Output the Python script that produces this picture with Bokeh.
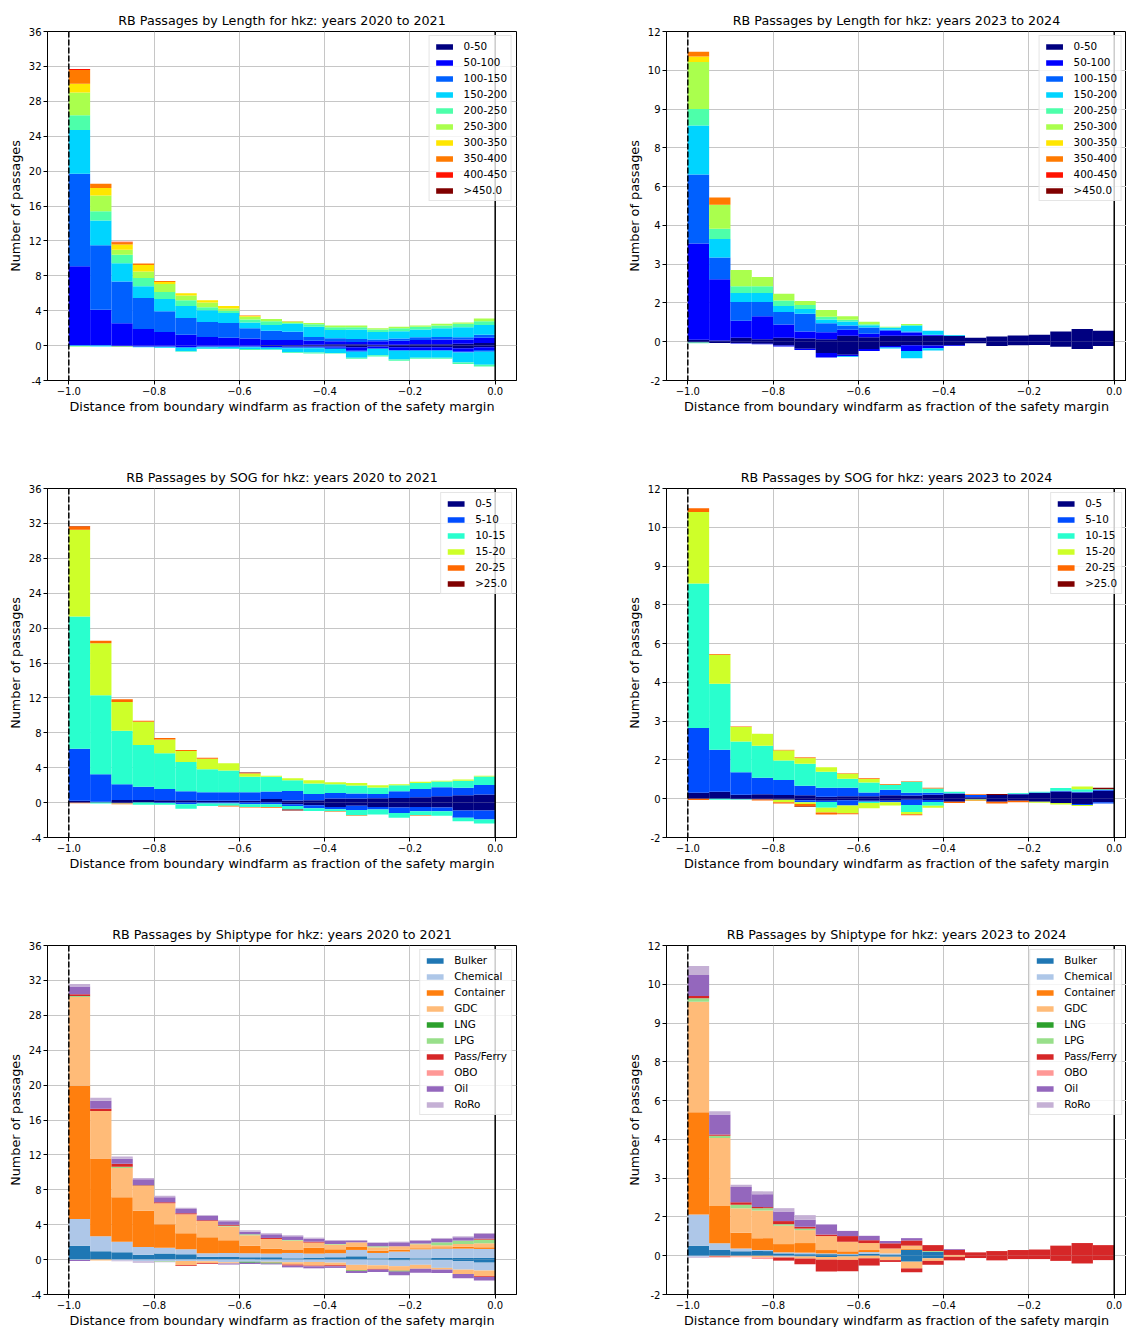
from bokeh.plotting import figure
from bokeh.models import ColumnDataSource, Range1d, FixedTicker, Span, Legend, LegendItem
from bokeh.layouts import column, row
from bokeh.embed import file_html
from bokeh.resources import INLINE

# ---------------- data ----------------
n_bins = 20
bin_width = 0.05
bin_centers = [round(-1.0 + bin_width * (i + 0.5), 3) for i in range(n_bins)]

length_cats = ["0-50", "50-100", "100-150", "150-200", "200-250",
               "250-300", "300-350", "350-400", "400-450", ">450.0"]
length_colors = ["#000080", "#0000ff", "#0060ff", "#00d4ff", "#4dffaa",
                 "#aaff4d", "#ffe600", "#ff7a00", "#ff1200", "#800000"]
sog_cats = ["0-5", "5-10", "10-15", "15-20", "20-25", ">25.0"]
sog_colors = ["#000080", "#004cff", "#29ffce", "#ceff29", "#ff6800", "#800000"]
ship_cats = ["Bulker", "Chemical", "Container", "GDC", "LNG", "LPG",
             "Pass/Ferry", "OBO", "Oil", "RoRo"]
ship_colors = ["#1f77b4", "#aec7e8", "#ff7f0e", "#ffbb78", "#2ca02c", "#98df8a",
               "#d62728", "#ff9896", "#9467bd", "#c5b0d5"]

Z = [0] * 20

# Length, 2020-2021, passages in positive direction (one row per category)
len20_pos = [
    [0, 0, 0, 0, 0, 0, 0, 0, 0, 0.05, 0.05, 0.1, 0.15, 0.15, 0.1, 0.1, 0.15, 0.15, 0.2, 0.3],
    [9.1, 4.1, 2.55, 1.9, 1.55, 1.25, 1.0, 0.9, 0.8, 0.6, 0.6, 0.45, 0.35, 0.25, 0.4, 0.45, 0.5, 0.55, 0.5, 0.6],
    [10.6, 7.4, 4.8, 3.55, 2.4, 1.9, 1.7, 1.7, 1.2, 1.05, 0.95, 0.45, 0.35, 0.35, 0.2, 0.25, 0.3, 0.3, 0.25, 0.35],
    [5.0, 2.85, 2.1, 1.35, 1.4, 1.4, 1.35, 1.15, 0.65, 0.65, 0.9, 1.15, 0.95, 1.1, 0.85, 0.85, 0.9, 1.0, 1.15, 1.1],
    [1.7, 1.05, 0.95, 0.95, 0.8, 0.65, 0.35, 0.25, 0.35, 0.45, 0.1, 0.3, 0.3, 0.25, 0.3, 0.35, 0.3, 0.3, 0.4, 0.45],
    [2.6, 1.8, 0.6, 0.75, 0.9, 0.55, 0.55, 0.25, 0.3, 0.25, 0.15, 0.15, 0.2, 0.2, 0.15, 0.15, 0.15, 0.2, 0.15, 0.3],
    [1.0, 0.85, 0.6, 0.75, 0.25, 0.25, 0.25, 0.3, 0.1, 0, 0, 0, 0, 0, 0, 0, 0, 0, 0, 0],
    [1.6, 0.5, 0.25, 0.15, 0.1, 0, 0, 0, 0.05, 0, 0.05, 0, 0, 0, 0, 0, 0, 0, 0, 0],
    [0.1, 0, 0.05, 0, 0, 0, 0, 0, 0, 0, 0, 0, 0, 0, 0, 0, 0, 0, 0, 0],
    Z,
]
# Length, 2020-2021, passages in negative direction (magnitudes)
len20_neg = [
    [0, 0, 0, 0, 0, 0, 0, 0, 0, 0.05, 0.1, 0.1, 0.1, 0.2, 0.1, 0.2, 0.2, 0.2, 0.3, 0.2],
    [0, 0, 0.05, 0.1, 0.1, 0.15, 0.1, 0.1, 0.1, 0.1, 0.1, 0.1, 0.15, 0.4, 0.2, 0.3, 0.3, 0.3, 0.4, 0.3],
    [0, 0, 0.05, 0.05, 0.05, 0.1, 0.1, 0.05, 0.1, 0.1, 0.1, 0.1, 0.15, 0.1, 0.1, 0.1, 0.1, 0.1, 0.1, 0.2],
    [0.05, 0.1, 0, 0.05, 0.1, 0.4, 0.15, 0.2, 0.2, 0.2, 0.45, 0.5, 0.45, 0.7, 0.7, 1.0, 0.8, 0.8, 1.15, 1.5],
    [0.05, 0, 0, 0, 0, 0.05, 0.05, 0.05, 0.1, 0.05, 0.1, 0.1, 0.05, 0.1, 0.15, 0.15, 0.1, 0.1, 0.15, 0.2],
    [0.03, 0, 0.05, 0, 0, 0, 0, 0, 0, 0, 0, 0, 0, 0, 0, 0, 0, 0, 0, 0],
    Z, Z, Z, Z,
]

# Length, 2023-2024
len23_pos = [
    [0.08, 0.05, 0.15, 0.1, 0.15, 0.12, 0.1, 0.23, 0.17, 0.23, 0.23, 0.23, 0.23, 0.15, 0.2, 0.24, 0.27, 0.4, 0.49, 0.42],
    [3.72, 2.37, 0.66, 0.89, 0.52, 0.28, 0.27, 0.23, 0.14, 0.19, 0.13, 0.03, 0, 0, 0, 0, 0, 0, 0, 0],
    [2.67, 0.84, 0.73, 0.55, 0.48, 0.68, 0.34, 0.17, 0.24, 0.04, 0.04, 0.01, 0, 0, 0, 0, 0, 0, 0, 0],
    [1.89, 0.71, 0.34, 0.34, 0.23, 0.19, 0.15, 0.15, 0.09, 0.08, 0.22, 0.15, 0.03, 0, 0, 0, 0, 0, 0, 0],
    [0.64, 0.4, 0.27, 0.27, 0.21, 0.15, 0.11, 0.07, 0.04, 0.02, 0.03, 0, 0, 0, 0, 0, 0, 0, 0, 0],
    [1.82, 0.93, 0.62, 0.35, 0.27, 0.16, 0.26, 0.14, 0.09, 0.02, 0.04, 0, 0, 0, 0, 0, 0, 0, 0, 0],
    [0.21, 0, 0, 0, 0, 0, 0, 0, 0, 0, 0, 0, 0, 0, 0, 0, 0, 0, 0, 0],
    [0.19, 0.28, 0, 0, 0, 0, 0, 0, 0, 0, 0, 0, 0, 0, 0, 0, 0, 0, 0, 0],
    Z, Z,
]
len23_neg = [
    [0.03, 0.05, 0.05, 0.08, 0.15, 0.27, 0.44, 0.5, 0.28, 0.17, 0.14, 0.15, 0.14, 0.06, 0.17, 0.14, 0.13, 0.19, 0.28, 0.17],
    [0, 0, 0.02, 0.02, 0.03, 0.05, 0.17, 0.06, 0.08, 0.05, 0.22, 0.1, 0.03, 0, 0, 0, 0, 0, 0, 0],
    Z,
    [0, 0, 0, 0, 0, 0, 0, 0.03, 0, 0.04, 0.28, 0.09, 0, 0, 0, 0, 0, 0, 0, 0],
    [0.03, 0, 0, 0, 0, 0, 0, 0, 0, 0, 0, 0, 0, 0, 0, 0, 0, 0, 0, 0],
    Z, Z, Z, Z, Z,
]

# SOG, 2020-2021
sog20_pos = [
    [0.2, 0.1, 0.3, 0.3, 0.27, 0.27, 0.2, 0.2, 0.2, 0.42, 0.23, 0.27, 0.46, 0.46, 0.5, 0.54, 0.61, 0.73, 0.84, 0.92],
    [5.97, 3.14, 1.8, 1.53, 1.3, 1.03, 0.99, 0.99, 0.99, 0.84, 1.11, 0.73, 0.65, 0.57, 0.5, 0.76, 0.96, 1.03, 0.85, 1.11],
    [15.16, 9.06, 6.13, 4.76, 4.1, 3.34, 2.64, 2.49, 1.76, 1.69, 1.23, 1.18, 1.0, 0.92, 0.72, 0.69, 0.69, 0.65, 0.8, 0.96],
    [9.95, 5.95, 3.31, 2.67, 1.57, 1.26, 1.19, 0.84, 0.38, 0.12, 0.23, 0.39, 0.23, 0.31, 0.27, 0.12, 0.12, 0.08, 0.15, 0.08],
    [0.38, 0.3, 0.31, 0.11, 0.15, 0.12, 0.11, 0, 0.07, 0, 0, 0, 0, 0, 0, 0, 0, 0, 0, 0],
    [0.05, 0, 0, 0, 0, 0, 0, 0, 0.05, 0, 0, 0, 0, 0, 0, 0, 0, 0, 0, 0],
]
sog20_neg = [
    [0.03, 0, 0.05, 0, 0, 0, 0, 0, 0, 0, 0.2, 0.3, 0.5, 0.35, 0.5, 0.55, 0.5, 0.55, 0.9, 0.9],
    [0, 0, 0, 0, 0.05, 0.2, 0.1, 0.1, 0.2, 0.2, 0.2, 0.35, 0.25, 0.5, 0.3, 0.65, 0.5, 0.45, 0.85, 1.05],
    [0, 0.1, 0.05, 0.25, 0.2, 0.5, 0.3, 0.25, 0.3, 0.3, 0.4, 0.3, 0.25, 0.6, 0.55, 0.55, 0.45, 0.5, 0.4, 0.45],
    Z,
    [0.05, 0, 0.1, 0, 0, 0, 0, 0.1, 0.05, 0.1, 0, 0, 0.05, 0.05, 0, 0, 0.05, 0, 0, 0],
    [0, 0, 0, 0, 0, 0, 0, 0, 0, 0, 0.1, 0, 0, 0, 0, 0, 0, 0, 0, 0],
]

# SOG, 2023-2024
sog23_pos = [
    [0.23, 0.27, 0.15, 0.17, 0.14, 0.13, 0.08, 0.1, 0.1, 0.13, 0.12, 0.15, 0.19, 0.06, 0.14, 0.17, 0.22, 0.28, 0.24, 0.31],
    [2.51, 1.62, 0.87, 0.64, 0.58, 0.37, 0.34, 0.32, 0.14, 0.22, 0.11, 0.08, 0.02, 0.08, 0, 0.02, 0.02, 0.03, 0.03, 0.03],
    [5.59, 2.56, 1.19, 1.24, 0.76, 0.85, 0.62, 0.35, 0.39, 0.19, 0.43, 0.17, 0.06, 0, 0, 0.03, 0.03, 0.1, 0.1, 0.03],
    [2.76, 1.12, 0.56, 0.46, 0.39, 0.22, 0.18, 0.2, 0.13, 0, 0, 0, 0, 0, 0, 0, 0, 0, 0.1, 0],
    [0.15, 0.03, 0.02, 0, 0.02, 0.03, 0, 0.02, 0.03, 0.03, 0.02, 0.02, 0, 0.03, 0, 0, 0, 0, 0, 0],
    [0, 0, 0, 0, 0, 0, 0, 0, 0, 0, 0, 0, 0, 0, 0.04, 0, 0, 0, 0, 0.05],
]
sog23_neg = [
    [0, 0, 0.02, 0.03, 0.04, 0.06, 0.08, 0.06, 0.08, 0.08, 0.04, 0.05, 0.12, 0.03, 0.12, 0.08, 0.12, 0.17, 0.2, 0.14],
    [0, 0, 0, 0, 0, 0.08, 0.05, 0.2, 0.04, 0.06, 0.2, 0.08, 0, 0, 0, 0, 0, 0, 0.04, 0.04],
    [0, 0.04, 0.02, 0, 0, 0, 0.22, 0, 0.05, 0, 0.27, 0.14, 0, 0, 0, 0, 0, 0, 0, 0],
    [0, 0, 0, 0, 0.1, 0.06, 0.18, 0.3, 0.2, 0.12, 0.09, 0.08, 0, 0.04, 0, 0, 0.04, 0.05, 0.04, 0],
    [0.05, 0, 0, 0.04, 0.04, 0.1, 0.08, 0.04, 0, 0, 0.04, 0, 0.05, 0.02, 0.06, 0.06, 0, 0, 0, 0],
    [0, 0, 0, 0, 0, 0.02, 0, 0, 0, 0, 0, 0, 0, 0, 0, 0, 0, 0, 0, 0],
]

# Shiptype, 2020-2021
ship20_pos = [
    [1.6, 0.95, 0.84, 0.57, 0.69, 0.61, 0.34, 0.31, 0.27, 0.27, 0.15, 0.23, 0.27, 0.38, 0.15, 0.19, 0.15, 0.19, 0.19, 0.19],
    [3.06, 1.72, 1.22, 0.88, 0.68, 0.57, 0.39, 0.45, 0.46, 0.42, 0.61, 0.46, 0.46, 0.73, 0.61, 0.73, 1.03, 1.07, 1.07, 1.03],
    [15.26, 8.93, 5.08, 4.16, 2.68, 1.84, 1.83, 1.45, 0.87, 0.57, 0.34, 0.68, 0.45, 0.34, 0.27, 0.19, 0.12, 0.15, 0.23, 0.19],
    [10.19, 5.42, 3.36, 2.83, 2.4, 2.17, 1.87, 1.57, 1.19, 1.11, 1.08, 0.58, 0.54, 0.53, 0.38, 0.42, 0.46, 0.23, 0.3, 0.46],
    [0.05, 0, 0, 0, 0, 0, 0, 0, 0, 0, 0, 0, 0, 0, 0, 0, 0, 0, 0, 0],
    [0.05, 0, 0.15, 0.05, 0, 0, 0, 0.11, 0.11, 0, 0.07, 0, 0.07, 0, 0.12, 0, 0.08, 0.34, 0.39, 0.42],
    [0.2, 0.27, 0.34, 0.05, 0.11, 0.11, 0.07, 0.11, 0, 0.11, 0, 0.11, 0, 0, 0, 0, 0, 0, 0, 0.11],
    Z,
    [0.88, 0.91, 0.57, 0.66, 0.58, 0.5, 0.54, 0.39, 0.3, 0.42, 0.42, 0.34, 0.35, 0.15, 0.38, 0.45, 0.3, 0.39, 0.38, 0.54],
    [0.3, 0.35, 0.27, 0.15, 0.19, 0.15, 0.06, 0.11, 0.16, 0.12, 0.12, 0.12, 0.11, 0.12, 0.07, 0.08, 0.11, 0.11, 0.11, 0.11],
]
ship20_neg = [
    [0, 0, 0, 0, 0, 0, 0, 0, 0, 0, 0, 0, 0, 0, 0, 0.1, 0, 0.05, 0.2, 0.35],
    [0.05, 0, 0.1, 0.2, 0.15, 0.15, 0.2, 0.3, 0.25, 0.25, 0.3, 0.27, 0.35, 0.6, 0.65, 0.65, 0.6, 0.9, 0.95, 0.9],
    Z,
    [0, 0.1, 0, 0, 0, 0.5, 0.2, 0.15, 0, 0.1, 0.27, 0.42, 0.3, 0.65, 0.42, 0.53, 0.45, 0.2, 0.5, 0.65],
    [0, 0, 0, 0, 0, 0, 0, 0, 0.1, 0.1, 0, 0, 0, 0.07, 0, 0.08, 0, 0, 0, 0],
    [0, 0, 0, 0, 0.1, 0, 0, 0, 0, 0, 0, 0, 0, 0, 0, 0, 0, 0, 0, 0],
    [0, 0, 0, 0, 0, 0.07, 0.07, 0, 0, 0, 0.12, 0.08, 0.11, 0, 0.08, 0, 0, 0, 0, 0.08],
    Z,
    [0.1, 0, 0, 0, 0, 0, 0, 0.1, 0.15, 0.1, 0.2, 0.23, 0.19, 0.23, 0.27, 0.42, 0.46, 0.38, 0.5, 0.42],
    [0, 0, 0.1, 0.15, 0.05, 0, 0, 0, 0, 0, 0, 0, 0, 0, 0, 0, 0, 0, 0, 0],
]

# Shiptype, 2023-2024
ship23_pos = [
    [0.39, 0.22, 0.17, 0.18, 0.09, 0.06, 0.06, 0.05, 0.08, 0.05, 0.23, 0.15, 0, 0, 0, 0, 0, 0, 0, 0],
    [1.2, 0.26, 0.11, 0.04, 0.04, 0.06, 0.03, 0.02, 0.06, 0.04, 0, 0, 0, 0, 0, 0, 0, 0, 0, 0],
    [3.96, 1.44, 0.61, 0.46, 0.32, 0.37, 0.13, 0.1, 0.08, 0, 0.05, 0, 0, 0, 0, 0, 0, 0, 0, 0],
    [4.27, 2.63, 0.95, 1.07, 0.71, 0.5, 0.54, 0.37, 0.27, 0.19, 0.11, 0, 0.03, 0, 0, 0, 0, 0, 0, 0],
    Z,
    [0.14, 0.09, 0.13, 0.09, 0.06, 0.06, 0, 0, 0, 0, 0, 0.03, 0, 0, 0, 0, 0, 0, 0, 0],
    [0.09, 0.05, 0.1, 0.04, 0.12, 0.07, 0.06, 0.22, 0.11, 0.2, 0.2, 0.23, 0.2, 0.13, 0.18, 0.22, 0.24, 0.39, 0.49, 0.41],
    Z,
    [0.81, 0.77, 0.59, 0.5, 0.37, 0.27, 0.39, 0.2, 0.17, 0.09, 0.09, 0, 0.03, 0, 0, 0, 0, 0, 0, 0],
    [0.35, 0.13, 0.09, 0.11, 0.13, 0.18, 0, 0, 0, 0, 0, 0, 0, 0, 0, 0, 0, 0, 0, 0],
]
ship23_neg = [
    [0, 0, 0, 0, 0, 0.03, 0.05, 0.03, 0, 0.04, 0.23, 0.1, 0, 0, 0, 0, 0, 0, 0, 0],
    [0.04, 0, 0, 0, 0.04, 0, 0, 0, 0, 0, 0, 0, 0, 0, 0, 0, 0, 0, 0, 0],
    Z,
    [0, 0.03, 0.03, 0.06, 0.03, 0.08, 0.1, 0.13, 0.1, 0.13, 0.26, 0.1, 0.04, 0, 0, 0, 0, 0, 0, 0],
    Z, Z,
    [0, 0.03, 0, 0, 0.12, 0.22, 0.46, 0.44, 0.28, 0.07, 0.15, 0.15, 0.14, 0.09, 0.18, 0.13, 0.13, 0.2, 0.3, 0.17],
    [0, 0, 0.03, 0.07, 0, 0, 0, 0, 0, 0, 0, 0, 0, 0, 0, 0, 0, 0, 0, 0],
    Z,
    [0.04, 0, 0, 0, 0, 0, 0, 0, 0, 0, 0, 0, 0, 0, 0, 0, 0, 0, 0, 0],
]

x_ticks = [round(-1.0 + 0.2 * k, 1) for k in range(6)]
left_yticks = list(range(-4, 37, 4))
right_yticks = [-1.5 + 1.5 * k for k in range(10)]

FONT = "DejaVu Sans"
XLABEL = "Distance from boundary windfarm as fraction of the safety margin"
YLABEL = "Number of passages"


def make_panel(title, cats, colors, pos, neg, side, bottom_border):
    if side == "left":
        fw, xr = 469, (-1.05, 0.05)
        yr, yticks = (-4, 36), left_yticks
        ylabels = {t: str(t) for t in yticks}
        bl, br = 47, 50
    else:
        fw, xr = 460, (-1.05, -1.05 + 460 / 426.4)
        yr, yticks = (-1.5, 12), right_yticks
        ylabels = {t: f"{t:.0f}" for t in yticks}
        bl, br = 100, 0
    p = figure(frame_width=fw, frame_height=349,
               x_range=Range1d(*xr), y_range=Range1d(*yr),
               output_backend="svg", toolbar_location=None,
               min_border_left=bl, min_border_right=br,
               min_border_top=31, min_border_bottom=bottom_border,
               background_fill_color="white", border_fill_color="white")
    p.title.text = title
    p.title.align = "center"
    p.title.text_font = FONT
    p.title.text_font_size = "12.7px"
    p.title.text_font_style = "normal"
    p.title.text_color = "black"
    p.title.standoff = 7

    data = {"x": bin_centers}
    for i in range(len(cats)):
        data[f"p{i}"] = pos[i]
        data[f"n{i}"] = [-v for v in neg[i]]
    src = ColumnDataSource(data)
    rp = p.vbar_stack([f"p{i}" for i in range(len(cats))], x="x", width=bin_width,
                      fill_color=colors, line_color=None, source=src)
    p.vbar_stack([f"n{i}" for i in range(len(cats))], x="x", width=bin_width,
                 fill_color=colors, line_color=None, source=src)

    p.add_layout(Span(location=-1.0, dimension="height", line_color="black",
                      line_width=1.5, line_dash="6 2"))
    p.add_layout(Span(location=0.0, dimension="height", line_color="black",
                      line_width=1.5))

    p.xaxis.ticker = FixedTicker(ticks=x_ticks)
    p.xaxis.major_label_overrides = {t: f"{t:.1f}".replace("-", "\u2212") for t in x_ticks}
    p.yaxis.ticker = FixedTicker(ticks=yticks)
    p.yaxis.major_label_overrides = ylabels
    p.xgrid.ticker = FixedTicker(ticks=x_ticks)
    p.ygrid.ticker = FixedTicker(ticks=yticks)
    for g in (p.xgrid, p.ygrid):
        g.grid_line_color = "#c6c6c6"
        g.grid_line_width = 1

    p.xaxis.axis_label = XLABEL
    p.yaxis.axis_label = YLABEL
    for ax in (p.xaxis, p.yaxis):
        ax.axis_label_text_font = FONT
        ax.axis_label_text_font_size = "12.8px"
        ax.axis_label_text_font_style = "normal"
        ax.axis_label_text_color = "black"
        ax.major_label_text_font = FONT
        ax.major_label_text_font_size = "10px"
        ax.major_label_text_color = "black"
        ax.axis_line_color = "black"
        ax.major_tick_line_color = "black"
        ax.minor_tick_line_color = None
        ax.major_tick_in = 0
        ax.major_tick_out = 4
        ax.major_label_standoff = 2
        ax.axis_label_standoff = 3
    p.xaxis.axis_label_standoff = 1
    p.outline_line_color = "black"
    p.outline_line_width = 1
    p.outline_line_alpha = 1

    legend = Legend(items=[LegendItem(label=c, renderers=[r]) for c, r in zip(cats, rp)],
                    location="top_right")
    legend.label_text_font = FONT
    legend.label_text_font_size = "10.4px"
    legend.label_text_color = "black"
    legend.glyph_width = 21
    legend.glyph_height = 7
    legend.label_height = 12
    legend.label_standoff = 9
    legend.spacing = 4
    legend.padding = 4
    legend.margin = 4
    legend.border_line_color = "#cccccc"
    legend.border_line_width = 1
    legend.background_fill_alpha = 0.8
    p.add_layout(legend)
    return p


p1 = make_panel("RB Passages by Length for hkz: years 2020 to 2021", length_cats, length_colors, len20_pos, len20_neg, "left", 77)
p2 = make_panel("RB Passages by Length for hkz: years 2023 to 2024", length_cats, length_colors, len23_pos, len23_neg, "right", 77)
p3 = make_panel("RB Passages by SOG for hkz: years 2020 to 2021", sog_cats, sog_colors, sog20_pos, sog20_neg, "left", 77)
p4 = make_panel("RB Passages by SOG for hkz: years 2023 to 2024", sog_cats, sog_colors, sog23_pos, sog23_neg, "right", 77)
p5 = make_panel("RB Passages by Shiptype for hkz: years 2020 to 2021", ship_cats, ship_colors, ship20_pos, ship20_neg, "left", 33)
p6 = make_panel("RB Passages by Shiptype for hkz: years 2023 to 2024", ship_cats, ship_colors, ship23_pos, ship23_neg, "right", 33)

layout = column(row(p1, p2), row(p3, p4), row(p5, p6))
open("out.html", "w").write(file_html(layout, INLINE))
